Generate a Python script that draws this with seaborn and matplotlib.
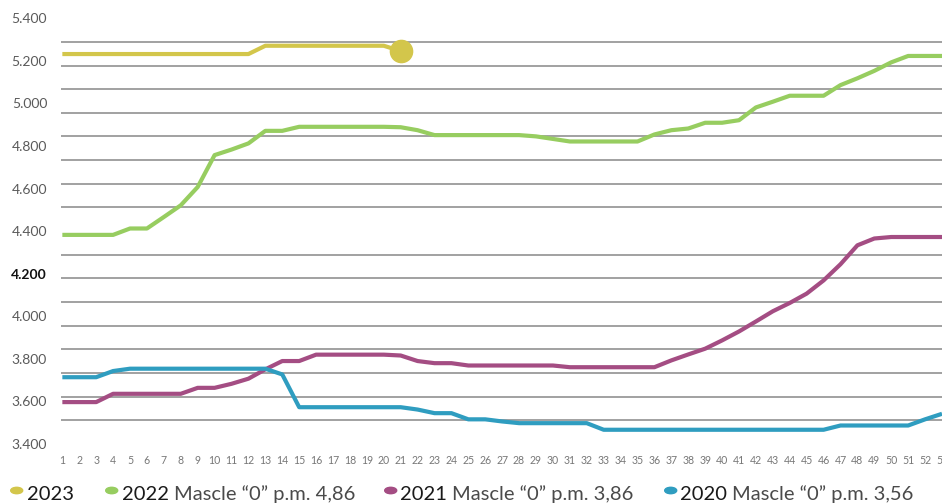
import numpy as np
import pandas as pd
import matplotlib
matplotlib.use("Agg")
import matplotlib.pyplot as plt
import seaborn as sns

# settimane (asse x) e valori
settimane = list(range(1, 54))
etichette_x = [str(s) for s in settimane]

anno_2023 = [5232, 5232, 5232, 5232, 5232, 5232, 5232, 5232, 5232, 5232, 5232, 5232,
             5271, 5271, 5271, 5271, 5271, 5271, 5271, 5271, 5246]

anno_2022 = [4382, 4382, 4382, 4382, 4412, 4412, 4466, 4521, 4607, 4757, 4783, 4812,
             4871, 4871, 4890, 4890, 4890, 4890, 4890, 4890, 4888, 4874, 4851, 4851,
             4851, 4851, 4851, 4851, 4845, 4833, 4821, 4821, 4821, 4821, 4821, 4854,
             4874, 4882, 4909, 4909, 4921, 4981, 5008, 5036, 5036, 5036, 5086, 5118,
             5153, 5193, 5223, 5223, 5223]

anno_2021 = [3596, 3596, 3596, 3635, 3635, 3635, 3635, 3635, 3663, 3663, 3682, 3706,
             3750, 3789, 3789, 3819, 3819, 3819, 3819, 3819, 3815, 3789, 3779, 3779,
             3768, 3768, 3768, 3768, 3768, 3768, 3760, 3760, 3760, 3760, 3760, 3760,
             3792, 3820, 3847, 3886, 3928, 3975, 4023, 4062, 4106, 4168, 4244, 4333,
             4365, 4372, 4372, 4372, 4372]

anno_2020 = [3713, 3713, 3713, 3742, 3753, 3753, 3753, 3753, 3753, 3753, 3753, 3753,
             3753, 3726, 3572, 3572, 3572, 3572, 3572, 3572, 3572, 3561, 3544, 3544,
             3515, 3515, 3505, 3497, 3497, 3497, 3497, 3497, 3466, 3466, 3466, 3466,
             3466, 3466, 3466, 3466, 3466, 3466, 3466, 3466, 3466, 3466, 3486, 3486,
             3486, 3486, 3486, 3515, 3541]

etichette_y = ["3.400", "3.600", "3.800", "4.000", "4.200", "4.400",
               "4.600", "4.800", "5.000", "5.200", "5.400"]
valori_y = [3400, 3600, 3800, 4000, 4200, 4400, 4600, 4800, 5000, 5200, 5400]

serie = ["2023", "2022", "2021", "2020"]
testi_legenda = ["", "Mascle \u201c0\u201d p.m. 4,86", "Mascle \u201c0\u201d p.m. 3,86",
                 "Mascle \u201c0\u201d p.m. 3,56"]
colori = {"2023": "#d3c64b", "2022": "#97cd60", "2021": "#a44d83", "2020": "#2f9dc0"}

# tabella lunga per seaborn
righe = []
for nome, valori in zip(serie, [anno_2023, anno_2022, anno_2021, anno_2020]):
    for s, v in zip(settimane, valori):
        righe.append({"settimana": s, "valore": v, "serie": nome})
df = pd.DataFrame(righe)

sns.set_style("white")
plt.rcParams['font.family'] = ['Lato', 'DejaVu Sans']

fig = plt.figure(figsize=(9.42, 5.03), dpi=100)
W, H = 942, 503
ax = fig.add_axes([61 / W, 1 - 443.8 / H, (942 - 61) / W, (443.8 - 18.3) / H])

sns.lineplot(data=df, x="settimana", y="valore", hue="serie", hue_order=serie,
             palette=colori, linewidth=3.0, legend=False, ax=ax,
             solid_joinstyle="round", solid_capstyle="butt")

# pallino finale 2023
ax.plot(settimane[len(anno_2023) - 1], anno_2023[-1], "o", color=colori["2023"],
        markersize=16, zorder=5)

ax.set_xlim(0.92, 53)
ax.set_ylim(3400, 5400)
ax.set_xticks(settimane)
ax.set_xticklabels(etichette_x, fontsize=7.6, color="#777777")
ax.set_yticks(valori_y)
ax.set_yticklabels(etichette_y, fontsize=10, color="#5a5a5a")
for lab in ax.get_yticklabels():
    if lab.get_text() == "4.200":
        lab.set_fontweight("bold")
        lab.set_color("#111111")

# griglia: 18 intervalli uguali, indipendenti dalle etichette
ax.set_yticks(np.linspace(3400, 5400, 19), minor=True)
ax.grid(False)
ax.grid(which="minor", axis="y", color="#9a9a9a", linewidth=1.3)
ax.tick_params(axis="both", which="both", length=0)
ax.tick_params(axis="y", pad=10)
ax.tick_params(axis="x", pad=8)
ax.set_xlabel("")
ax.set_ylabel("")
for sp in ax.spines.values():
    sp.set_visible(False)

# legenda in basso
pos_punto = [16.7, 111.7, 390.7, 670.7]
pos_anno = [26.7, 121.7, 400, 680]
renderer = fig.canvas.get_renderer()
for nome, testo, xp, xa in zip(serie, testi_legenda, pos_punto, pos_anno):
    fig.add_artist(matplotlib.patches.Circle((xp / W, 1 - 490.5 / H), 6.0 / W,
                                             transform=fig.transFigure,
                                             color=colori[nome]))
    t = fig.text(xa / W, 0.006, nome, fontsize=14.5, color="#1a1a1a", va="baseline")
    if testo:
        fine = t.get_window_extent(renderer=renderer).x1
        fig.text((fine + 5) / W, 0.006, testo, fontsize=14.5, color="#4a4a4a",
                 va="baseline")

plt.savefig("out.png", dpi=100)
